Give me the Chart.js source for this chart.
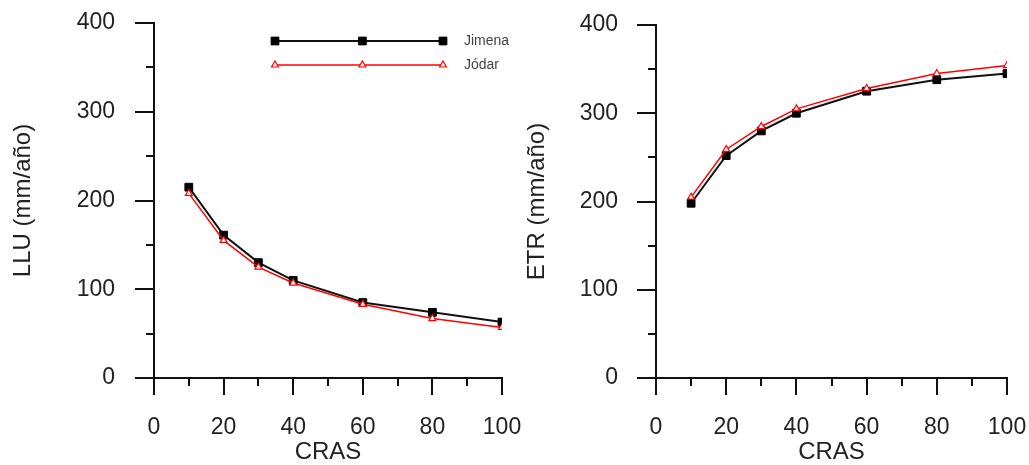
<!DOCTYPE html>
<html>
<head>
<meta charset="utf-8">
<script src="https://cdn.jsdelivr.net/npm/chart.js@4.4.1/dist/chart.umd.min.js"></script>
<style>
    html, body { margin: 0; padding: 0; background: #fff; }
    #wrap { position: relative; width: 1029px; height: 465px; overflow: hidden; }
    canvas { position: absolute; top: 0; }
</style>
</head>
<body>
<div id="wrap">
    <canvas id="lluChart" width="530" height="465" style="left:0"></canvas>
    <canvas id="etrChart" width="514" height="465" style="left:515px"></canvas>
</div>
<script>
// values
const cras = [10, 20, 30, 40, 60, 80, 100];
const lluJimena = [215, 161, 130, 110, 85, 74, 63];
const lluJodar = [208, 155, 125, 107, 83, 67, 57];
const etrJimena = [198, 252, 280, 300, 325, 338, 345];
const etrJodar = [205, 259, 285, 305, 328, 345, 354];
const seriesNames = ['Jimena', 'Jódar'];
const xTicks = [0, 20, 40, 60, 80, 100];
const xMinorTicks = [10, 30, 50, 70, 90];
const yTicks = [0, 100, 200, 300, 400];
const yMinorTicks = [50, 150, 250, 350];

const AXIS = '#111';
const TEXT = '#222';
const FONT = 'Liberation Sans, Arial, sans-serif';

// short outward ticks between the labelled ones
const minorTicks = {
    id: 'minorTicks',
    afterDraw(chart) {
        const { ctx } = chart;
        const x = chart.scales.x, y = chart.scales.y;
        ctx.save();
        ctx.strokeStyle = AXIS;
        ctx.lineWidth = 2;
        ctx.beginPath();
        xMinorTicks.forEach(v => {
            const px = Math.round(x.getPixelForValue(v));
            ctx.moveTo(px, x.top);
            ctx.lineTo(px, x.top + 8);
        });
        yMinorTicks.forEach(v => {
            const py = Math.round(y.getPixelForValue(v));
            ctx.moveTo(y.right - 8, py);
            ctx.lineTo(y.right, py);
        });
        ctx.stroke();
        ctx.restore();
    }
};

// legend drawn as in the original: long line with three markers
const lineLegend = {
    id: 'lineLegend',
    afterDatasetsDraw(chart, args, opts) {
        if (!opts.show) return;
        const { ctx } = chart;
        chart.data.datasets.forEach((ds, i) => {
            const y = opts.y + i * opts.gap;
            ctx.save();
            ctx.strokeStyle = ds.borderColor;
            ctx.lineWidth = ds.borderWidth;
            ctx.beginPath();
            ctx.moveTo(opts.x0, y);
            ctx.lineTo(opts.x1, y);
            ctx.stroke();
            ctx.fillStyle = ds.pointBackgroundColor;
            ctx.strokeStyle = ds.pointBorderColor;
            ctx.lineWidth = ds.pointBorderWidth;
            [opts.x0, opts.x0 + (opts.x1 - opts.x0) * 0.52, opts.x1].forEach(px => {
                Chart.helpers.drawPoint(ctx, {
                    pointStyle: ds.pointStyle,
                    radius: ds.pointRadius,
                    borderWidth: ds.pointBorderWidth,
                    rotation: 0
                }, px, y);
            });
            ctx.fillStyle = '#444';
            ctx.font = '14px ' + FONT;
            ctx.textBaseline = 'middle';
            ctx.fillText(ds.label, opts.textX, y);
            ctx.restore();
        });
    }
};

function toPoints(values) {
    return cras.map((c, i) => ({ x: c, y: values[i] }));
}

function makeChart(id, yTitle, jimena, jodar, layout, showLegend) {
    return new Chart(document.getElementById(id), {
        type: 'line',
        data: {
            datasets: [
                {
                    label: seriesNames[0],
                    data: toPoints(jimena),
                    borderColor: '#111',
                    borderWidth: 2,
                    pointStyle: 'rect',
                    pointRadius: 5.5,
                    pointBackgroundColor: '#000',
                    pointBorderColor: '#000',
                    pointBorderWidth: 1,
                    order: 1
                },
                {
                    label: seriesNames[1],
                    data: toPoints(jodar),
                    borderColor: '#ff0000',
                    borderWidth: 1.5,
                    pointStyle: 'triangle',
                    pointRadius: 4,
                    pointBackgroundColor: '#fff',
                    pointBorderColor: '#ff0000',
                    pointBorderWidth: 1.2,
                    order: 0
                }
            ]
        },
        options: {
            responsive: false,
            animation: false,
            layout: { padding: { top: layout.top, right: layout.right, left: 0, bottom: 0 } },
            plugins: {
                legend: { display: false },
                tooltip: { enabled: false },
                lineLegend: { show: showLegend, x0: 275, x1: 443, y: 41, gap: 24, textX: 464 }
            },
            scales: {
                x: {
                    type: 'linear',
                    min: 0,
                    max: 100,
                    afterBuildTicks: s => { s.ticks = xTicks.map(v => ({ value: v })); },
                    afterFit: s => { s.height = 87; s.paddingLeft = 0; s.paddingRight = 0; },
                    grid: { drawOnChartArea: false, tickLength: 17, color: AXIS, lineWidth: 2 },
                    border: { color: AXIS, width: 2 },
                    ticks: { padding: 19, color: TEXT, font: { family: FONT, size: 23 } },
                    title: {
                        display: true,
                        text: 'CRAS',
                        color: TEXT,
                        font: { family: FONT, size: 24 },
                        padding: { top: 0, bottom: -2 }
                    }
                },
                y: {
                    min: 0,
                    max: 400,
                    afterBuildTicks: s => { s.ticks = yTicks.map(v => ({ value: v })); },
                    afterFit: s => { s.width = layout.axisWidth; s.paddingTop = 0; s.paddingBottom = 0; },
                    grid: { drawOnChartArea: false, tickLength: 19, color: AXIS, lineWidth: 2 },
                    border: { color: AXIS, width: 2 },
                    ticks: { padding: layout.tickPad, color: TEXT, font: { family: FONT, size: 23 } },
                    title: {
                        display: true,
                        text: yTitle,
                        color: TEXT,
                        font: { family: FONT, size: 24 },
                        padding: { top: layout.titlePad, bottom: 0 }
                    }
                }
            }
        },
        plugins: [minorTicks, lineLegend]
    });
}

makeChart('lluChart', 'LLU (mm/año)', lluJimena, lluJodar,
    { top: 23, right: 28, axisWidth: 154, tickPad: 20, titlePad: 9 }, true);
makeChart('etrChart', 'ETR (mm/año)', etrJimena, etrJodar,
    { top: 25, right: 22, axisWidth: 141, tickPad: 19, titlePad: 8 }, false);
</script>
</body>
</html>
